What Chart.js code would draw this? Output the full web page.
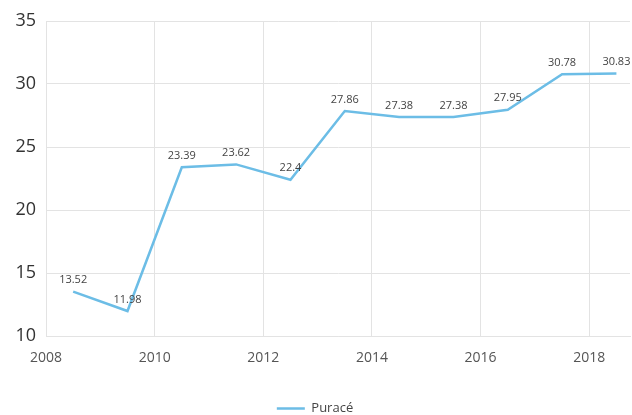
<!DOCTYPE html>
<html>
<head>
<meta charset="utf-8">
<script src="https://cdn.jsdelivr.net/npm/chart.js@4.4.0/dist/chart.umd.min.js"></script>
<style>
    html, body { margin: 0; padding: 0; background: #fff; }
    #wrap { width: 632px; height: 415px; }
</style>
</head>
<body>
<div id="wrap"><canvas id="chart" width="632" height="415"></canvas></div>
<script>
// Данные графика
const years = [2008, 2009, 2010, 2011, 2012, 2013, 2014, 2015, 2016, 2017, 2018];
const values = [13.52, 11.98, 23.39, 23.62, 22.4, 27.86, 27.38, 27.38, 27.95, 30.78, 30.83];
const seriesName = 'Puracé';
const xTicks = [2008, 2010, 2012, 2014, 2016, 2018];
const yTicks = [10, 15, 20, 25, 30, 35];

const lineColor = '#6cbde6';
const gridColor = '#e3e3e3';

// Подписи значений над точками
const valueLabels = {
    id: 'valueLabels',
    afterDatasetsDraw(chart) {
        const ctx = chart.ctx;
        const meta = chart.getDatasetMeta(0);
        ctx.save();
        ctx.font = '11px "Open Sans"';
        ctx.fillStyle = '#444';
        ctx.textAlign = 'center';
        ctx.textBaseline = 'bottom';
        meta.data.forEach((pt, i) => {
            ctx.fillText(String(values[i]), pt.x, pt.y - 6);
        });
        ctx.restore();
    }
};

// Сдвиг легенды ближе к нижнему краю
const legendShift = {
    id: 'legendShift',
    afterLayout(chart) {
        if (chart.legend) {
            chart.legend.top += 10;
            chart.legend.bottom += 10;
        }
    }
};

const ctx = document.getElementById('chart').getContext('2d');
const chart = new Chart(ctx, {
    type: 'line',
    data: {
        datasets: [{
            label: seriesName,
            // точки стоят посередине года
            data: years.map((y, i) => ({ x: y + 0.5, y: values[i] })),
            borderColor: lineColor,
            backgroundColor: lineColor,
            borderWidth: 2.5,
            pointRadius: 0,
            tension: 0,
            fill: false
        }]
    },
    options: {
        responsive: false,
        animation: false,
        layout: {
            padding: { top: 21, right: 2, left: 0, bottom: 0 }
        },
        scales: {
            x: {
                type: 'linear',
                min: 2008,
                max: 2018.75,
                afterBuildTicks(axis) {
                    axis.ticks = xTicks.map(v => ({ value: v }));
                },
                grid: { color: gridColor, drawTicks: false },
                border: { color: gridColor },
                ticks: {
                    padding: 14,
                    maxRotation: 0,
                    autoSkip: false,
                    font: { family: 'Open Sans', size: 14 },
                    color: '#555',
                    callback: v => String(v)
                },
                afterFit(axis) { axis.height = 55; }
            },
            y: {
                min: 10,
                max: 35,
                afterBuildTicks(axis) {
                    axis.ticks = yTicks.map(v => ({ value: v }));
                },
                grid: { color: gridColor, drawTicks: false },
                border: { color: gridColor },
                ticks: {
                    padding: 10,
                    font: { family: 'Open Sans', size: 18 },
                    color: '#333'
                },
                afterFit(axis) { axis.width = 46; }
            }
        },
        plugins: {
            legend: {
                position: 'bottom',
                labels: {
                    usePointStyle: true,
                    pointStyle: 'line',
                    pointStyleWidth: 28,
                    boxHeight: 10,
                    color: '#444',
                    font: { family: 'Open Sans', size: 13 },
                    padding: 1
                }
            },
            tooltip: { enabled: false }
        }
    },
    plugins: [valueLabels, legendShift]
});
</script>
</body>
</html>
